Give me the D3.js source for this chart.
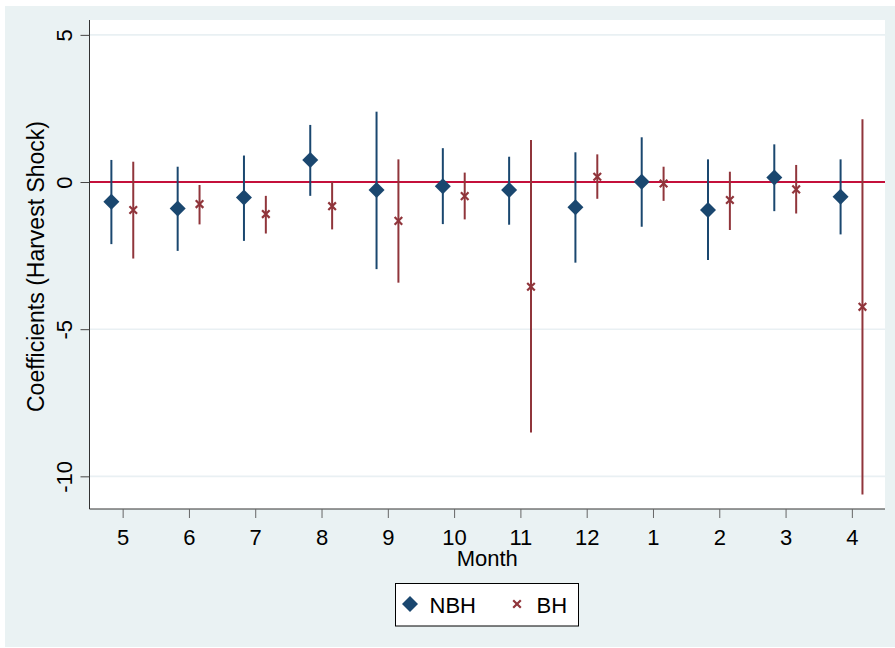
<!DOCTYPE html>
<html>
<head>
<meta charset="utf-8">
<script src="https://cdn.jsdelivr.net/npm/d3@7"></script>
<style>
  body { margin: 0; background: #fff; }
  svg { display: block; font-family: "Liberation Sans", Arial, sans-serif; }
</style>
</head>
<body>
<svg id="chart" width="895" height="648"></svg>
<script>
// month order on the x axis
const months = ['5', '6', '7', '8', '9', '10', '11', '12', '1', '2', '3', '4']

// NBH: coefficient, upper and lower bound
const nbhCoef = [-0.67, -0.90, -0.53, 0.75, -0.27, -0.14, -0.27, -0.86, 0.01, -0.95, 0.15, -0.50]
const nbhHi = [0.75, 0.52, 0.90, 1.94, 2.39, 1.15, 0.86, 1.01, 1.52, 0.77, 1.28, 0.77]
const nbhLo = [-2.11, -2.34, -2.00, -0.47, -2.96, -1.43, -1.45, -2.74, -1.52, -2.65, -0.99, -1.78]

// BH: coefficient, upper and lower bound
const bhCoef = [-0.95, -0.75, -1.09, -0.82, -1.32, -0.48, -3.56, 0.18, -0.05, -0.61, -0.25, -4.24]
const bhHi = [0.69, -0.10, -0.47, 0.00, 0.77, 0.32, 1.43, 0.94, 0.52, 0.35, 0.58, 2.13]
const bhLo = [-2.60, -1.44, -1.75, -1.61, -3.42, -1.27, -8.51, -0.57, -0.64, -1.63, -1.07, -10.62]

const yTicks = [5, 0, -5, -10]

const navy = '#1a476f'
const maroon = '#90353b'

const svg = d3.select('#chart')
const plot = { left: 89.5, right: 885, top: 20, bottom: 509 }

svg.append('rect').attr('x', 5).attr('y', 6).attr('width', 890).attr('height', 641).attr('fill', '#eaf2f3')
svg.append('rect')
  .attr('x', plot.left).attr('y', plot.top)
  .attr('width', plot.right - plot.left).attr('height', plot.bottom - plot.top)
  .attr('fill', '#fff')

const x = d3.scaleLinear().domain([-0.5, 11.5]).range([plot.left, plot.right])
const y = d3.scaleLinear().domain([-11.11, 5.505]).range([plot.bottom, plot.top])

// grid lines
svg.append('g').selectAll('line')
  .data(yTicks.filter(d => d !== 0))
  .enter().append('line')
  .attr('x1', plot.left).attr('x2', plot.right)
  .attr('y1', d => y(d)).attr('y2', d => y(d))
  .attr('stroke', '#e9f0f3').attr('stroke-width', 1.6)

// zero line
svg.append('line')
  .attr('x1', plot.left).attr('x2', plot.right)
  .attr('y1', y(0)).attr('y2', y(0))
  .attr('stroke', '#c4103b').attr('stroke-width', 2)

// axes
const yAxis = svg.append('g')
  .attr('transform', `translate(${plot.left},0)`)
  .call(d3.axisLeft(y).tickValues(yTicks).tickFormat(d3.format('d')).tickSize(9).tickSizeOuter(0))
yAxis.select('.domain').attr('stroke', '#333').attr('d', `M0,${plot.top}V${plot.bottom}`)
yAxis.selectAll('.tick line').attr('stroke', '#444')
yAxis.selectAll('.tick text')
  .attr('transform', 'rotate(-90)')
  .attr('x', 0).attr('y', -17.5).attr('dy', 0)
  .attr('text-anchor', 'middle')
  .attr('font-size', 22).attr('fill', '#000')
  .text(d => d < 0 ? '-' + Math.abs(d) : d)

const xAxis = svg.append('g')
  .attr('transform', `translate(0,${plot.bottom})`)
  .call(d3.axisBottom(x).tickValues(d3.range(12)).tickFormat(i => months[i]).tickSize(9).tickSizeOuter(0))
xAxis.select('.domain').attr('stroke', '#333').attr('d', `M${plot.left},0H${plot.right}`)
xAxis.selectAll('.tick line').attr('stroke', '#666')
xAxis.selectAll('.tick text')
  .attr('y', 35.5).attr('dy', 0)
  .attr('font-size', 22).attr('fill', '#000')

svg.selectAll('.domain').attr('fill', 'none')
yAxis.attr('font-family', null)
xAxis.attr('font-family', null)

// axis titles
svg.append('text')
  .attr('transform', `translate(44,${(plot.top + plot.bottom) / 2 + 2}) rotate(-90)`)
  .attr('text-anchor', 'middle')
  .attr('font-size', 23)
  .text('Coefficients (Harvest Shock)')

svg.append('text')
  .attr('x', (plot.left + plot.right) / 2).attr('y', 565.5)
  .attr('text-anchor', 'middle')
  .attr('font-size', 22)
  .text('Month')

const nbhOff = -0.17
const bhOff = 0.16
const idx = d3.range(12)

// error bars
const bars = svg.append('g')
bars.selectAll('.nbh-bar')
  .data(idx).enter().append('line')
  .attr('class', 'nbh-bar')
  .attr('x1', i => x(i + nbhOff)).attr('x2', i => x(i + nbhOff))
  .attr('y1', i => y(nbhHi[i])).attr('y2', i => y(nbhLo[i]))
  .attr('stroke', navy).attr('stroke-width', 2)
bars.selectAll('.bh-bar')
  .data(idx).enter().append('line')
  .attr('class', 'bh-bar')
  .attr('x1', i => x(i + bhOff)).attr('x2', i => x(i + bhOff))
  .attr('y1', i => y(bhHi[i])).attr('y2', i => y(bhLo[i]))
  .attr('stroke', maroon).attr('stroke-width', 2)

const diamond = s => `M0,${-s}L${s},0L0,${s}L${-s},0Z`
const cross = s => `M${-s},${-s}L${s},${s}M${-s},${s}L${s},${-s}`

// markers
svg.append('g').selectAll('path')
  .data(idx).enter().append('path')
  .attr('transform', i => `translate(${x(i + nbhOff)},${y(nbhCoef[i])})`)
  .attr('d', diamond(8))
  .attr('fill', navy)
svg.append('g').selectAll('path')
  .data(idx).enter().append('path')
  .attr('transform', i => `translate(${x(i + bhOff)},${y(bhCoef[i])})`)
  .attr('d', cross(3.8))
  .attr('stroke', maroon).attr('stroke-width', 2.2).attr('fill', 'none')

// legend
const legend = svg.append('g')
legend.append('rect')
  .attr('x', 395.5).attr('y', 583.5).attr('width', 183).attr('height', 42.5)
  .attr('fill', '#fff').attr('stroke', '#000').attr('stroke-width', 1)
legend.append('path').attr('transform', 'translate(410,604)').attr('d', diamond(8)).attr('fill', navy)
legend.append('text').attr('x', 429.5).attr('y', 613).attr('font-size', 22).text('NBH')
legend.append('path').attr('transform', 'translate(517,604)').attr('d', cross(3.8))
  .attr('stroke', maroon).attr('stroke-width', 2.2).attr('fill', 'none')
legend.append('text').attr('x', 536.5).attr('y', 613).attr('font-size', 22).text('BH')
</script>
</body>
</html>
